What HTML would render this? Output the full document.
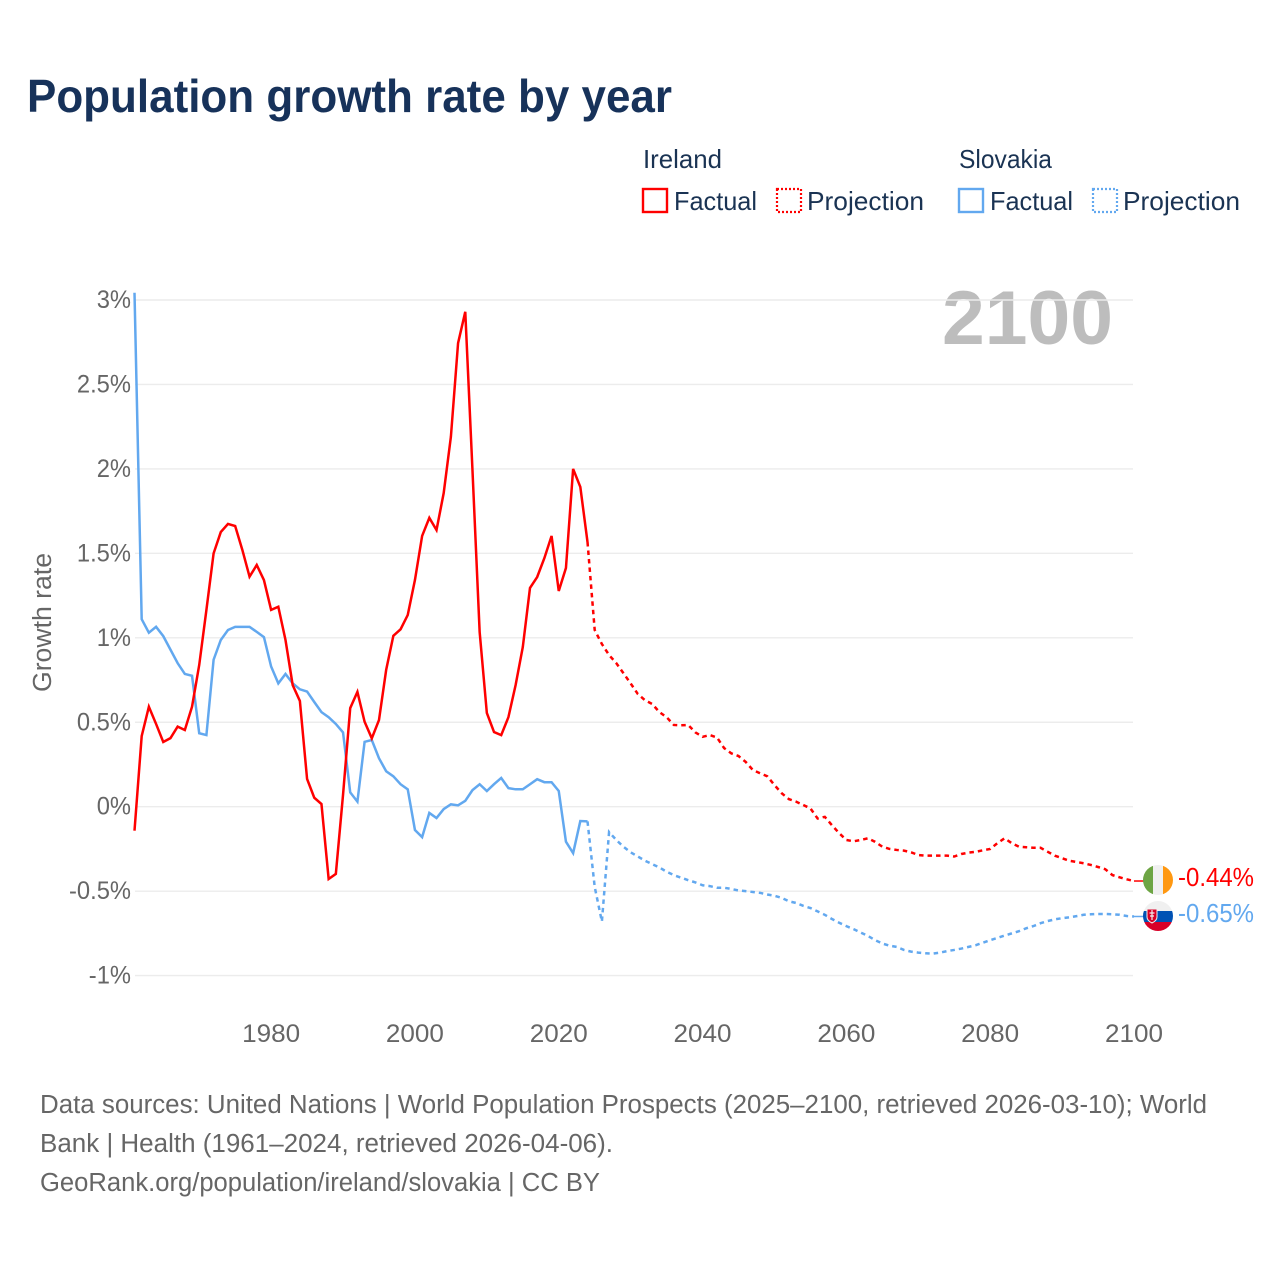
<!DOCTYPE html>
<html lang="en">
<head>
<meta charset="utf-8">
<title>Population growth rate by year</title>
<style>
html,body{margin:0;padding:0;background:#fff;}
svg{display:block;font-family:"Liberation Sans",sans-serif;}
.tick{font-size:25px;fill:#666;}
.foot{font-size:25.5px;fill:#666;}
.leg{font-size:26px;fill:#1a3353;}
</style>
</head>
<body>
<svg id="chart" width="1280" height="1280" viewBox="0 0 1280 1280" xmlns="http://www.w3.org/2000/svg">
  <defs>
    <clipPath id="clip-ie"><circle cx="1158" cy="880" r="15"/></clipPath>
    <clipPath id="clip-sk"><circle cx="1158" cy="916" r="15"/></clipPath>
  </defs>
  <text x="27" y="112" font-size="46" font-weight="700" fill="#17325a" textLength="645" lengthAdjust="spacingAndGlyphs">Population growth rate by year</text>

  <g>
    <text class="leg" x="643" y="168" textLength="79" lengthAdjust="spacingAndGlyphs">Ireland</text>
    <rect x="643" y="189" width="24" height="23" fill="none" stroke="#ff0000" stroke-width="2.4"/>
    <text class="leg" x="674" y="210" textLength="83" lengthAdjust="spacingAndGlyphs">Factual</text>
    <rect x="777" y="189" width="24" height="23" fill="none" stroke="#ff0000" stroke-width="2.2" stroke-dasharray="2 2"/>
    <text class="leg" x="807" y="210" textLength="117" lengthAdjust="spacingAndGlyphs">Projection</text>
    <text class="leg" x="959" y="168" textLength="93" lengthAdjust="spacingAndGlyphs">Slovakia</text>
    <rect x="959" y="189" width="24" height="23" fill="none" stroke="#62a8ef" stroke-width="2.4"/>
    <text class="leg" x="990" y="210" textLength="83" lengthAdjust="spacingAndGlyphs">Factual</text>
    <rect x="1093" y="189" width="24" height="23" fill="none" stroke="#62a8ef" stroke-width="2.2" stroke-dasharray="2 2"/>
    <text class="leg" x="1123" y="210" textLength="117" lengthAdjust="spacingAndGlyphs">Projection</text>
  </g>

  <text transform="translate(51,692) rotate(-90)" font-size="25.5" fill="#666" textLength="139" lengthAdjust="spacingAndGlyphs">Growth rate</text>
  <text x="1113" y="344" text-anchor="end" font-size="76" font-weight="700" fill="#bdbdbd" textLength="171" lengthAdjust="spacingAndGlyphs">2100</text>

  <g id="grid"></g>
  <g id="yticks"></g>
  <g id="xticks"></g>
  <g id="series"></g>

  <g clip-path="url(#clip-ie)">
    <rect x="1143" y="865" width="10" height="30" fill="#6da544"/>
    <rect x="1153" y="865" width="10" height="30" fill="#f0f0f0"/>
    <rect x="1163" y="865" width="10" height="30" fill="#ff9811"/>
  </g>
  <g clip-path="url(#clip-sk)">
    <rect x="1143" y="901" width="30" height="10" fill="#f0f0f0"/>
    <rect x="1143" y="911" width="30" height="11" fill="#0052b4"/>
    <rect x="1143" y="922" width="30" height="9" fill="#d80027"/>
    <path d="M1147 909h10v8c0 3-3 5-5 6c-2-1-5-3-5-6z" fill="#d80027" stroke="#f0f0f0" stroke-width="1"/>
    <path d="M1152 910v10M1149.5 913h5M1150 916h4" stroke="#f0f0f0" stroke-width="1.2" fill="none"/>
  </g>
  <text id="end-ie" x="1178" y="886" font-size="25.5" fill="#ff0000" textLength="76" lengthAdjust="spacingAndGlyphs"></text>
  <text id="end-sk" x="1178" y="922" font-size="25.5" fill="#62a8ef" textLength="76" lengthAdjust="spacingAndGlyphs"></text>

  <g>
    <text class="foot" x="40" y="1113" textLength="1167" lengthAdjust="spacingAndGlyphs">Data sources: United Nations | World Population Prospects (2025–2100, retrieved 2026-03-10); World</text>
    <text class="foot" x="40" y="1152" textLength="573" lengthAdjust="spacingAndGlyphs">Bank | Health (1961–2024, retrieved 2026-04-06).</text>
    <text class="foot" x="40" y="1191" textLength="560" lengthAdjust="spacingAndGlyphs">GeoRank.org/population/ireland/slovakia | CC BY</text>
  </g>
</svg>
<script>
const firstYear = 1961;
const lastFactualYear = 2024;
const yTickValues = [3, 2.5, 2, 1.5, 1, 0.5, 0, -0.5, -1];
const yTickLabels = ["3%", "2.5%", "2%", "1.5%", "1%", "0.5%", "0%", "-0.5%", "-1%"];
const xTickYears = [1980, 2000, 2020, 2040, 2060, 2080, 2100];
const irelandFactual = [
  -0.142,0.418,0.592,0.49,0.383,0.406,0.474,0.454,0.592,0.839,
  1.165,1.50,1.626,1.674,1.662,1.52,1.362,1.431,1.342,1.165,
  1.184,0.987,0.72,0.626,0.164,0.053,0.016,-0.428,-0.398,0.07,
  0.584,0.68,0.503,0.405,0.513,0.81,1.012,1.05,1.135,1.342,
  1.603,1.71,1.638,1.857,2.19,2.745,2.93,1.994,1.034,0.555,
  0.442,0.424,0.53,0.72,0.945,1.295,1.36,1.472,1.603,1.277,
  1.413,2.0,1.893,1.567
];
const irelandProjection = [
  1.567,1.046,0.963,0.898,0.85,0.79,0.73,0.667,0.63,0.608,
  0.56,0.53,0.484,0.482,0.484,0.44,0.414,0.424,0.41,0.347,
  0.316,0.30,0.265,0.217,0.198,0.18,0.128,0.08,0.045,0.03,
  0.01,-0.01,-0.07,-0.06,-0.11,-0.157,-0.197,-0.205,-0.197,-0.187,
  -0.208,-0.237,-0.25,-0.256,-0.26,-0.27,-0.286,-0.29,-0.29,-0.29,
  -0.29,-0.295,-0.28,-0.272,-0.267,-0.258,-0.25,-0.216,-0.187,-0.216,
  -0.237,-0.24,-0.243,-0.243,-0.267,-0.29,-0.305,-0.32,-0.327,-0.335,
  -0.345,-0.357,-0.37,-0.405,-0.418,-0.43,-0.44
];
const slovakiaFactual = [
  3.043,1.11,1.03,1.065,1.01,0.93,0.85,0.786,0.775,0.435,
  0.424,0.87,0.987,1.046,1.065,1.065,1.065,1.035,1.004,0.83,
  0.73,0.786,0.73,0.695,0.682,0.62,0.56,0.53,0.49,0.44,
  0.085,0.03,0.384,0.395,0.287,0.21,0.18,0.133,0.103,-0.138,
  -0.18,-0.037,-0.067,-0.014,0.014,0.008,0.035,0.098,0.133,0.093,
  0.133,0.17,0.11,0.103,0.103,0.133,0.163,0.145,0.145,0.093,
  -0.207,-0.275,-0.085,-0.087
];
const slovakiaProjection = [
  -0.087,-0.475,-0.68,-0.15,-0.197,-0.237,-0.27,-0.295,-0.32,-0.34,
  -0.36,-0.385,-0.405,-0.42,-0.435,-0.448,-0.465,-0.47,-0.48,-0.48,
  -0.487,-0.496,-0.5,-0.505,-0.51,-0.52,-0.527,-0.54,-0.56,-0.57,
  -0.587,-0.6,-0.62,-0.64,-0.665,-0.687,-0.707,-0.725,-0.745,-0.765,
  -0.79,-0.81,-0.823,-0.83,-0.848,-0.858,-0.864,-0.868,-0.87,-0.864,
  -0.855,-0.848,-0.84,-0.83,-0.82,-0.805,-0.79,-0.777,-0.763,-0.75,
  -0.737,-0.72,-0.707,-0.69,-0.677,-0.667,-0.66,-0.655,-0.648,-0.64,
  -0.637,-0.635,-0.635,-0.637,-0.64,-0.647,-0.65
];

const SVGNS = "http://www.w3.org/2000/svg";
const xScale = function (year) { return 134.5 + (year - 1961) * (999.5 / 139); };
const yScale = function (value) { return 806.7 - value * 168.9; };

const grid = document.getElementById("grid");
const yTicks = document.getElementById("yticks");
yTickValues.forEach(function (v, i) {
  const line = document.createElementNS(SVGNS, "line");
  
  
  line.setAttribute("x1", 135);
  line.setAttribute("x2", 1133);
  line.setAttribute("y1", yScale(v));
  line.setAttribute("y2", yScale(v));
  line.setAttribute("stroke", "#ececec");
  line.setAttribute("stroke-width", "1.4");
  grid.appendChild(line);
  const label = document.createElementNS(SVGNS, "text");
  
  
  label.setAttribute("class", "tick");
  label.setAttribute("x", 131);
  label.setAttribute("y", yScale(v) + 8);
  label.setAttribute("text-anchor", "end");
  label.textContent = yTickLabels[i];
  yTicks.appendChild(label);
  label.setAttribute("lengthAdjust", "spacingAndGlyphs");
  label.setAttribute("textLength", (label.getComputedTextLength() * 0.95).toFixed(1));
});

const xTicks = document.getElementById("xticks");
xTickYears.forEach(function (yr) {
  const label = document.createElementNS(SVGNS, "text");
  
  
  label.setAttribute("class", "tick");
  label.setAttribute("x", xScale(yr));
  label.setAttribute("y", 1042);
  label.setAttribute("text-anchor", "middle");
  label.textContent = String(yr);
  xTicks.appendChild(label);
  label.setAttribute("lengthAdjust", "spacingAndGlyphs");
  label.setAttribute("textLength", "58");
});

function linePath(values, startYear) {
  return values.map(function (v, i) {
    return (i ? "L" : "M") + xScale(startYear + i).toFixed(2) + " " + yScale(v).toFixed(2);
  }).join(" ");
}

const seriesGroup = document.getElementById("series");
function addLine(name, values, startYear, color, dashed) {
  const path = document.createElementNS(SVGNS, "path");
  
  
  path.setAttribute("d", linePath(values, startYear));
  path.setAttribute("fill", "none");
  path.setAttribute("stroke", color);
  path.setAttribute("stroke-width", "2.5");
  path.setAttribute("stroke-linejoin", "miter");
  if (dashed) { path.setAttribute("stroke-dasharray", "4.5 4"); }
  seriesGroup.appendChild(path);
}
function addConnector(name, value, color) {
  const line = document.createElementNS(SVGNS, "line");
  
  
  line.setAttribute("x1", xScale(2100));
  line.setAttribute("x2", 1145);
  line.setAttribute("y1", yScale(value));
  line.setAttribute("y2", yScale(value));
  line.setAttribute("stroke", color);
  line.setAttribute("stroke-width", "1.5");
  seriesGroup.appendChild(line);
}
const RED = "#ff0000";
const BLUE = "#62a8ef";
addLine("slovakia-factual-line", slovakiaFactual, firstYear, BLUE, false);
addLine("slovakia-projection-line", slovakiaProjection, lastFactualYear, BLUE, true);
addLine("ireland-factual-line", irelandFactual, firstYear, RED, false);
addLine("ireland-projection-line", irelandProjection, lastFactualYear, RED, true);
const ieEnd = irelandProjection[irelandProjection.length - 1];
const skEnd = slovakiaProjection[slovakiaProjection.length - 1];
addConnector("ireland-end-connector", ieEnd, RED);
addConnector("slovakia-end-connector", skEnd, BLUE);
document.getElementById("end-ie").textContent = ieEnd.toFixed(2) + "%";
document.getElementById("end-sk").textContent = skEnd.toFixed(2) + "%";
</script>
</body>
</html>
